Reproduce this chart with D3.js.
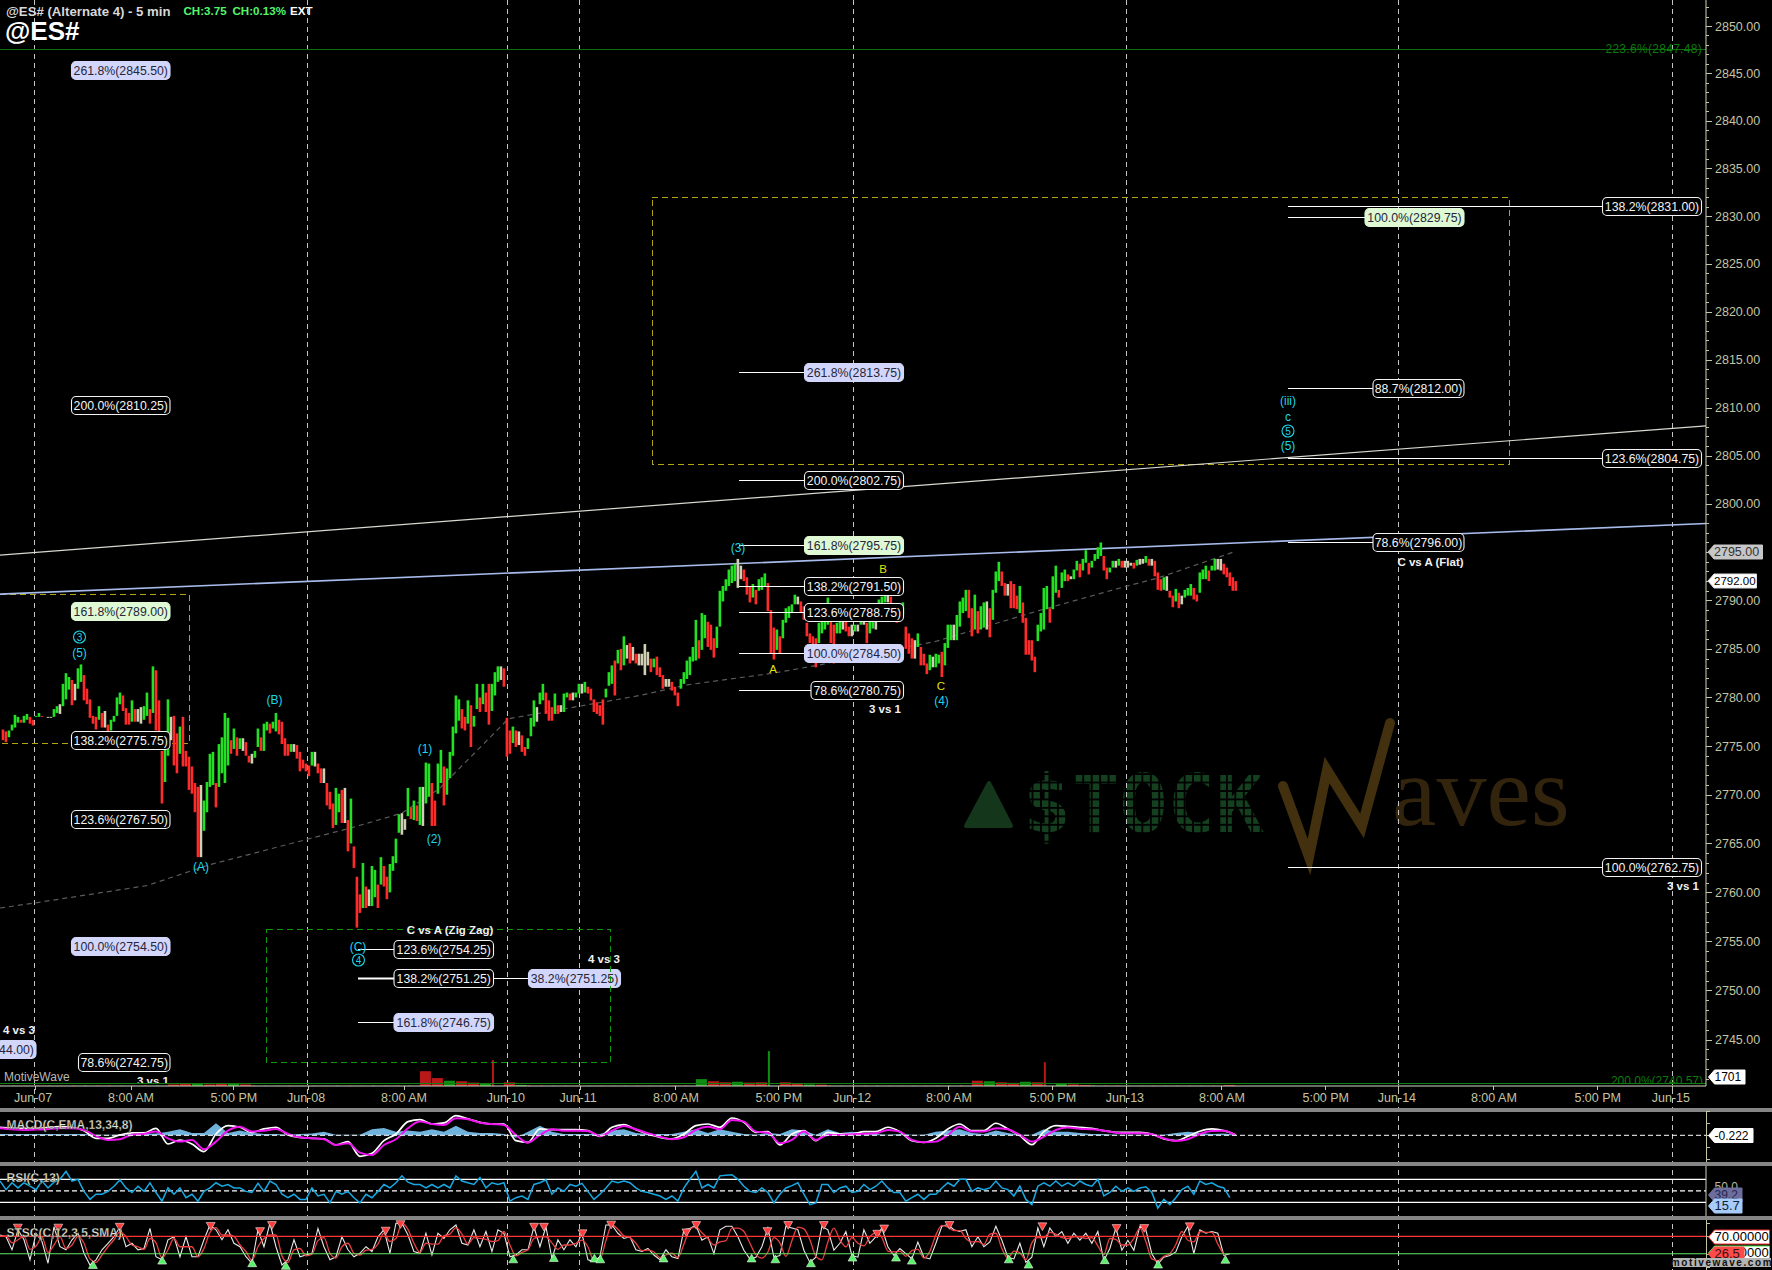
<!DOCTYPE html>
<html><head><meta charset="utf-8"><title>@ES# (Alternate 4) - 5 min</title>
<script src="https://cdn.jsdelivr.net/npm/d3@7"></script>
<style>
html,body{margin:0;padding:0;background:#000;overflow:hidden}
svg{display:block;font-family:"Liberation Sans",Arial,sans-serif}
.axis text{fill:#c4c4a4;font-size:12.5px;font-family:"Liberation Sans",Arial,sans-serif}
.axis line,.axis path{stroke:#c4c4a4;stroke-width:1;shape-rendering:crispEdges}
</style></head><body><svg id="c" width="1772" height="1270" viewBox="0 0 1772 1270"></svg>
<script>
// ---------- price bars, sampled every 3 bars, left to right ----------
const barHigh=[2776.7,2776.5,2776.6,2777.2,2778.2,2778,2777.7,2778.1,2778.3,2778,2777.7,2778.1,2778.4,2778.1,2778,2778,2778,2778.8,2779.1,2779.3,2781.4,2782.5,2782.1,2781.8,2781.4,2783,2783.4,2782.3,2780.9,2779.8,2778.1,2778,2779.1,2778.4,2778.6,2777.2,2777.7,2778.1,2780,2780.5,2780.2,2778.9,2778.4,2779.7,2778.8,2778.8,2779,2779.1,2780.5,2778.8,2783.2,2782.8,2779.7,2774.5,2774.9,2779.8,2778,2778.1,2776.3,2777,2778,2774.5,2773.9,2772.9,2771.2,2770.8,2771,2769.4,2771.3,2774.2,2774.4,2771.2,2775.2,2775.9,2778.4,2777.9,2775.6,2776.8,2775.9,2775.8,2775.8,2775.4,2774,2774.2,2774.5,2776.8,2775.9,2777.3,2777.5,2777.3,2777.5,2778.4,2777.7,2777.5,2775.8,2775.2,2775.2,2775.2,2775.1,
2774.4,2773.6,2773.2,2773,2774.4,2774.4,2773.2,2772.7,2772.7,2771.2,2770.3,2769.1,2770.7,2770.1,2770.5,2770.7,2767.4,2769.6,2764.7,2761.6,2759.8,2763,2760.6,2760.3,2762.7,2762.3,2760.8,2763.6,2762.7,2761.6,2762.9,2763.7,2765.5,2768,2768.1,2767.5,2770.7,2768.7,2769.4,2768.9,2770.8,2770.8,2773.3,2773.2,2771.2,2769.4,2773.2,2774.6,2772.9,2772.7,2774.4,2777,2780.2,2779.8,2778.8,2778,2779.7,2779.2,2778.1,2781.4,2780,2781.4,2780.5,2781.4,2781.4,2782.6,2783.2,2783.2,2783,
2777.9,2776.6,2777,2776.6,2776.5,2776.1,2774.9,2775.8,2777.9,2779.7,2779,2780.5,2781.4,2780.5,2779.7,2779,2780.4,2779.2,2779.2,2780.4,2780.5,2780.4,2780.5,2780.5,2781.4,2781.4,2781.6,2781.1,2780.9,2779.8,2779.5,2779.2,2779.8,2780.9,2782.6,2783.3,2783.8,2784.9,
2785,2786.3,2785.4,2785.6,2785.2,2784.5,2784.5,2784.5,2785.5,2784.7,2784,2784,2784.2,2783.1,2782.3,2781.9,2781.9,2781.6,2781.1,2780.5,2781.9,2782.6,2783.8,2784.2,2785.2,2788,2785.9,2788.7,2788.5,2787.8,2787.5,2786.1,2787.3,2791,2791.5,2792.2,2793.2,2793.6,2793.8,2794.3,2793.6,2793.2,2792.4,2791.5,2791.7,2791.1,2792.2,2792.4,2792.8,2791.8,2789,2787.2,2787,2786.3,2788,2789.2,2789.4,2789.6,2790.6,2790.4,2789.9,2789.4,2787.7,2786.6,2786.3,2786.1,2787.7,2788.2,2788.4,2790.3,2787.8,2787.5,2787.7,2788.2,2788,2787.8,2787.3,2787.5,2787.5,2787.5,2788.4,2788.4,2787.7,2788,2788.5,2788.5,2790.1,2790.4,2790.8,2790.8,2790.4,2789.6,2788.7,2788.5,2789.8,2787.3,2786.6,2786.1,2785.9,2786.6,2785.2,2784.5,2783.5,2784.4,2784.2,2784.5,2784.4,
2784.7,2785.6,2787.5,2787.5,2787.5,2788.5,2789.9,2790.3,2791.1,2791.1,2789.2,2790.6,2788.9,2789.4,2789.8,2789.9,2789.2,2791.1,2793,2794,2793,2791.8,2791.7,2792,2791.7,2790.5,2791.5,2789.8,2788.2,2785.9,2785.9,2784.2,2787.5,2788.7,2791.3,2791.5,2789.2,2792.5,2793.6,2791.1,2792.9,2793.2,2792.7,2792.5,2793.2,2794.1,2793.8,2794.3,2795.2,2793.9,2794.1,2794.8,2795.5,2796,2794.6,2793.4,2793.4,2794.1,2794.1,2794.3,2794.1,2794.1,2794.1,2793.9,2793.9,2794.2,2794.3,2794.3,2794.6,2794.3,2794.3,2794.1,2792.9,2792.2,2792.4,2792.5,2791,2790.5,2791.2,2790.8,2790.5,2791.1,2791.3,2791.7,2791.3,2790.6,2792.9,2793.2,2793.6,2793.1,2793.6,2794.3,2794.3,2794.3,2793.8,2793.4,2792.9,2792.4,2792];
const barLow=[2775.6,2775.4,2775.9,2776.6,2776.9,2777.4,2777.4,2777.4,2777.7,2777.3,2777.1,2778,2778,2778,2778,2777.9,2777.9,2778,2778.4,2778.3,2779.1,2779.8,2780.8,2779.2,2779.7,2780.9,2781.6,2779.7,2779.3,2777.9,2777.3,2776.7,2777.7,2776.9,2776.9,2776.5,2776.6,2777.5,2778.1,2779.3,2778.6,2777.2,2777.2,2777.5,2777.5,2777.5,2777.3,2777.7,2778.1,2777.3,2778.4,2776.6,2776.5,2769.1,2771.3,2774,2775.6,2773,2772.2,2774.2,2772.9,2772.9,2770.5,2770.1,2768.2,2763.6,2763.6,2766.3,2768.2,2770.8,2771,2768.7,2770.8,2772.2,2771.2,2773,2774.2,2774.7,2774,2774.7,2774.5,2774,2773.3,2773.2,2773.8,2774.9,2774.5,2774.5,2776.6,2776.3,2776.8,2776.5,2776.2,2775.2,2774,2774,2774.4,2774.4,2773.7,
2772.4,2772.7,2772.4,2771.9,2773,2772.9,2772.2,2771.2,2771.2,2768.9,2768.5,2766.6,2766.9,2768.2,2767.1,2767.1,2764.2,2765,2762.5,2756.4,2757.9,2758.4,2758.4,2758.6,2758.6,2759.5,2758.4,2760.8,2760.6,2759.3,2760,2762.2,2763,2766.1,2765.9,2766.4,2767.8,2767.5,2767.4,2767.3,2766.9,2766.8,2769.1,2769.8,2766.8,2766.8,2770.1,2771.2,2768.9,2770,2771.7,2774,2776.3,2777.6,2776.8,2776.6,2777.3,2774.9,2777,2778.8,2778.5,2779.3,2778.5,2777.2,2778.6,2780.2,2781.6,2781.8,2781.1,
2773.9,2774.2,2775.3,2774.9,2775.1,2774.4,2774,2774.7,2776,2777,2777.5,2779.3,2779.7,2778.3,2777.6,2777.6,2778.3,2778.3,2778.5,2778.5,2780,2779.7,2779.7,2780,2780.4,2780.4,2780.5,2780.4,2779.7,2778.5,2778.3,2778.1,2777.2,2780,2781.2,2781.4,2780.2,2783.5,
2782.8,2783.3,2784,2783.5,2783.8,2783.5,2783.3,2783.3,2782.3,2783.3,2782.6,2783.1,2782.3,2782.1,2780.9,2781.1,2781.1,2780.7,2780.2,2779.1,2780.9,2781.4,2781.9,2782.3,2783.7,2783.8,2784,2784.9,2786.1,2785.2,2784.9,2784.1,2785.1,2787.3,2789.9,2791,2791.5,2791.8,2792,2791.3,2792.2,2792,2790.6,2789.8,2790.3,2789.6,2791,2791.1,2791.5,2788.9,2784.5,2783.9,2784.9,2784.5,2786.1,2787.7,2788.2,2788.7,2789.6,2789.6,2788.7,2788,2786.3,2785.6,2785.4,2783.1,2785.6,2786.6,2787,2787.5,2785.6,2783.5,2786.6,2786.6,2787,2786.8,2786.3,2786.3,2786.8,2786.8,2787.5,2787.5,2785.6,2786.6,2787.1,2787,2788,2788.7,2789.8,2789.8,2788.7,2788,2787.7,2787.8,2788.5,2785,2784.5,2784,2784,2785.2,2783.3,2783.3,2782.4,2782.8,2783.1,2783.1,2783.5,
2782.1,2783.3,2785.1,2785.9,2785.9,2785.9,2787.3,2788.7,2788.9,2788.2,2786.3,2787,2786.6,2787,2787.2,2787,2786.2,2788,2790.8,2792,2791.5,2790.5,2790.5,2789.2,2789.2,2789.1,2788.7,2787.7,2784.4,2784.4,2783.8,2782.6,2785.8,2786.8,2787,2789.1,2787.7,2789.1,2790.8,2790.3,2791.3,2792,2792,2792.2,2792.2,2793.1,2792.4,2793.1,2793.9,2792.7,2793.4,2794.1,2794.3,2794.6,2793.1,2792.2,2792.9,2793.4,2793.4,2793.6,2793.4,2793.4,2793.4,2793.6,2793.3,2793.6,2793.7,2793.8,2793.9,2793.6,2793.6,2792.5,2791.1,2791,2791.1,2791,2790.3,2789.3,2789.9,2789.2,2789.6,2790.3,2790.5,2790.5,2790.1,2789.9,2790.8,2792.2,2792.2,2792,2793.1,2793.1,2793.2,2793.1,2792.7,2792.4,2791.5,2791,2791];
// volume, every 12 bars
const volume=[40,60,50,80,60,40,70,90,60,70,50,60,80,60,300,450,500,300,400,500,300,80,60,50,70,50,60,40,70,60,50,80,60,50,70,2800,1500,1000,900,650,500,4900,700,200,100,80,60,70,60,50,60,50,60,60,50,60,50,80,1300,900,700,800,650,700,6600,700,500,300,250,100,60,60,80,70,60,50,50,60,60,70,100,1000,900,700,600,800,700,4500,500,300,200,100,70,60,60,50,60,50,60,70,60,70,200];
// MACD, every 12 bars
const macdLine=[.88,.79,.75,.75,.88,.96,.88,.46,-.5,-.5,-.08,.17,.17,.75,-1.21,-.71,-1.21,-2.17,.04,1.08,.88,.25,.67,.88,-.08,-.38,-.5,-.58,-1.33,-.92,-2.75,-2.38,-.79,.04,1.58,1.83,1.29,1.42,2.33,1.92,1.5,1.29,1.29,-.79,-1,.67,.58,.58,.58,.46,-.25,.88,1.21,.58,.04,-.38,-.58,.04,1.08,1.29,.88,2.04,1.5,.25,.33,-1.33,.04,.46,-.79,.25,.04,.04,.33,.33,.88,.33,-.79,-1,-.5,.67,1.29,.46,.46,1.38,.67,-.17,-1.29,.33,1.08,1,.88,.75,.46,.25,.25,.25,.04,-.58,-.79,-.25,.38,.67,.46,-.08];
const macdSignal=[.88,.75,.67,.71,.79,.88,.88,.67,-.08,-.58,-.5,.08,.17,.46,-.38,-.79,-.58,-1.75,-.79,.58,1.08,.46,.58,.79,.17,-.25,-.38,-.5,-1.21,-1,-2.17,-2.46,-1.21,-.5,.88,1.71,1.42,1.29,2.13,2,1.58,1.42,1.29,.04,-.92,.04,.75,.58,.58,.54,-.08,.58,1.17,.75,.25,-.17,-.5,-.25,.67,1.08,.75,1.92,1.71,.46,.33,-1,-.58,.46,-.58,.04,.04,.13,.17,.25,.67,.46,-.58,-.88,-.79,.04,1.08,.46,.46,.88,.75,.04,-.79,-.17,.67,.96,.83,.75,.58,.33,.25,.25,.13,-.38,-.71,-.5,.17,.54,.58,0];
const macdHist=[.1,.1,.1,.1,.1,.1,.1,.1,.05,.05,.05,.1,.1,.15,.3,.5,.2,.2,1,.2,.4,.2,.1,.1,.05,.1,.15,.3,.05,.05,.05,.5,.6,.3,.4,.3,.5,.3,.8,.3,.2,.2,.1,-.2,.3,.8,.3,.1,.1,.1,.1,.4,.5,.2,.1,.1,.1,.3,.5,.2,.5,.3,.1,.05,.2,.1,.5,.4,.05,.5,.2,.3,.2,.1,.05,.1,.05,.05,.3,.4,.5,.2,.1,.4,.2,.05,.05,.5,.3,.3,.2,.1,.1,.05,.05,.05,.05,.05,.2,.3,.2,.1,.15,.05];
// RSI, every 6 bars
const rsi=[67,52,64,55,64,58,52,67,55,65,70,84,67,70,49,35,44,44,49,58,69,55,47,58,49,64,47,32,55,44,55,38,44,32,49,55,64,58,61,55,55,49,47,63,49,67,61,44,38,44,35,35,55,41,44,29,49,44,49,38,29,44,38,49,61,55,64,76,65,61,61,55,61,55,61,55,76,67,64,61,73,55,64,61,64,32,38,41,35,61,64,69,44,55,49,61,58,63,49,35,44,55,67,64,67,64,55,49,47,44,41,35,41,32,55,70,84,55,61,55,76,77,78,70,58,49,47,55,47,29,44,55,59,64,44,26,29,61,61,47,55,58,47,49,61,52,58,67,55,47,47,32,38,44,35,44,44,55,64,58,70,70,49,55,52,55,67,55,52,41,58,35,26,58,64,58,67,58,64,58,67,61,58,70,41,47,58,49,55,49,55,57,47,20,35,26,38,52,58,44,67,61,64,58,55,38];
// Stochastic fast and slow, every 6 bars
const stochFast=[73,69,39,85,62,16,77,58,8,92,46,39,62,77,31,4,16,39,54,69,92,46,54,39,42,88,23,16,62,69,23,69,23,23,62,96,85,62,85,54,46,23,8,85,46,100,46,4,16,62,23,27,31,88,46,16,23,69,39,23,31,46,35,69,85,31,100,100,73,35,31,77,27,77,65,85,96,54,50,85,46,81,35,85,77,23,27,39,39,92,46,92,19,62,39,62,46,77,16,12,23,96,96,77,65,69,39,35,42,27,16,39,23,19,85,88,96,61,69,30,85,93,93,69,38,18,22,46,89,22,26,93,89,85,38,10,22,93,85,38,54,81,26,22,85,54,69,89,46,26,42,30,18,57,22,18,54,93,97,85,81,85,46,69,46,57,93,61,22,18,54,10,22,89,46,89,69,81,54,77,61,77,54,81,14,42,89,38,61,38,93,85,30,6,22,26,34,69,93,30,85,77,81,77,26,30];
const stochSlow=[70,71,55,62,70,40,47,68,33,50,69,42,50,70,54,18,10,27,46,62,80,69,50,46,40,65,55,20,39,65,46,46,46,23,42,79,90,73,73,70,50,35,15,46,65,73,73,25,10,39,42,25,29,60,67,31,20,46,54,31,27,38,40,52,77,58,65,100,86,54,33,54,52,52,71,75,90,75,52,67,65,63,58,60,81,50,25,33,39,65,69,69,55,40,50,50,54,61,46,14,17,60,96,86,71,67,54,37,38,34,21,27,31,21,52,86,92,78,65,50,57,60,89,89,81,54,28,20,34,67,55,24,60,91,87,62,24,16,57,89,62,46,67,54,48,69,78,67,36,34,36,24,37,40,20,36,73,95,91,83,83,65,57,58,51,75,77,42,20,36,32,16,55,67,67,79,75,67,65,69,69,65,67,48,28,65,63,50,50,65,89,58,18,14,24,30,51,81,61,57,81,79,79,52,28];
const stochPeakBars=[18,59,121,213,263,275,390,405,540,550,589,618,694,704,776,797,833,887,894,960,1054,1129,1157,1203];
const stochPeakValues=[92,92,94,96,84,98,85,100,94,94,79,99,81,98,84,98,98,78,90,98,95,91,91,95];
const stochTroughBars=[94,164,255,289,519,560,601,607,671,760,784,820,862,906,922,1020,1040,1117,1171,1239];
const stochTroughValues=[2,12,6,0,15,18,17,15,17,17,15,6,19,19,12,15,3,13,3,14];
// dashed running average through the wave
const avgBars=[0,34,149,211,355,406,444,514,647,695,782,826,947,1052,1140,1170,1247];
const avgPrices=[2758.4,2758.9,2760.7,2762.8,2766.6,2768.1,2770.6,2777.8,2780.2,2781.3,2782.5,2783.3,2785.8,2789,2791.5,2792.3,2795];
// axes
const priceTicks=[2850,2845,2840,2835,2830,2825,2820,2815,2810,2805,2800,2795,2790,2785,2780,2775,2770,2765,2760,2755,2750,2745];
const timeTickBars=[35,132,236,311,408,513,586,683,787,863,959,1064,1139,1235,1340,1414,1510,1615,1691];
const timeTickLabels=["Jun-07","8:00 AM","5:00 PM","Jun-08","8:00 AM","Jun-10","Jun-11","8:00 AM","5:00 PM","Jun-12","8:00 AM","5:00 PM","Jun-13","8:00 AM","5:00 PM","Jun-14","8:00 AM","5:00 PM","Jun-15"];
const dayLineBars=[35,311,513,586,863,1139,1414,1691];
// fibonacci levels
const fibText=["261.8%(2845.50)","200.0%(2810.25)","161.8%(2789.00)","138.2%(2775.75)","123.6%(2767.50)","100.0%(2754.50)","78.6%(2742.75)","44.00)","123.6%(2754.25)","138.2%(2751.25)","161.8%(2746.75)","38.2%(2751.25)","261.8%(2813.75)","200.0%(2802.75)","161.8%(2795.75)","138.2%(2791.50)","123.6%(2788.75)","100.0%(2784.50)","78.6%(2780.75)","138.2%(2831.00)","100.0%(2829.75)","88.7%(2812.00)","123.6%(2804.75)","78.6%(2796.00)","100.0%(2762.75)"];
const fibPrice=[2845.5,2810.25,2789,2775.75,2767.5,2754.5,2742.75,2744,2754.25,2751.25,2746.75,2751.25,2813.75,2802.75,2795.75,2791.5,2788.75,2784.5,2780.75,2831,2829.75,2812,2804.75,2796,2762.75];
const fibTone=["l","k","g","k","k","l","k","l","k","k","l","l","l","k","g","k","k","l","k","k","g","k","k","k","k"];
// ---------- layout ----------
const W=1772,H=1270,AX=1706,BAR_STEP=3.033;
const fibBoxL=[71.5,71.5,71.5,71.5,71.5,71.5,78.5,-3,394,394,394,528.5,804.5,804.5,804.5,804.5,804.5,804.5,811,1602.5,1365,1373,1602.5,1373,1602.5];
const fibBoxR=[170,170,170,170,170,170,170,36,493.5,493.5,493.5,620.5,903.5,903.5,903.5,903.5,903.5,903.5,903.5,1701.5,1464,1464,1701.5,1464,1701.5];
const fibLineFrom=[0,0,0,0,0,0,0,0,358,358,358,493.5,739,739,739,739,739,739,739,1288,1288,1288,1288,1288,1288];
const fibNudge=[1,0,1,1,0,0,0,0,0,0,0,0,0,2.5,0,0,-1,-1,0,-1,-2,0,0,0,1.5];

const x=d3.scaleLinear().domain([0,1725]).range([0,AX]);
const y=d3.scaleLog().domain([2850,2745]).range([26,1039.5]);
const svg=d3.select("#c");
svg.append("rect").attr("width",W).attr("height",H).attr("fill","#000");
const defs=svg.append("defs");
function clip(id,a,b){defs.append("clipPath").attr("id",id).append("rect").attr("x",0).attr("y",a).attr("width",AX).attr("height",b-a);}
clip("cp",0,1084);clip("cm",1112,1162);clip("cr",1166,1216);clip("cs",1220,1270);
const pat=defs.append("pattern").attr("id","dots").attr("patternUnits","userSpaceOnUse").attr("x",1025).attr("y",775).attr("width",8.45).attr("height",8.45);
pat.append("rect").attr("width",6.6).attr("height",6.6).attr("fill","#14401f");

// watermark
const wm=svg.append("g");
wm.append("path").attr("d","M989,783 L1011,826 L966,826 Z").attr("fill","#14361a").attr("stroke","#14361a").attr("stroke-width",4).attr("stroke-linejoin","round");
wm.append("text").attr("x",1023).attr("y",832).attr("font-family","DejaVu Sans Mono").attr("font-weight","bold").attr("font-size",80).attr("fill","url(#dots)").text("$TOCK");
wm.append("path").attr("d","M1283,786 L1309,857 L1327,770 L1362,826 L1390,723").attr("fill","none").attr("stroke","#43300f").attr("stroke-width",10).attr("stroke-linecap","round");
wm.append("text").attr("x",1392).attr("y",825).attr("font-family","Liberation Serif").attr("font-size",100).attr("fill","#33240e").text("aves");

// vertical day lines
svg.append("g").selectAll("line").data(dayLineBars).join("line")
 .attr("x1",d=>x(d)).attr("x2",d=>x(d)).attr("y1",0).attr("y2",H)
 .attr("stroke","#c4c4c4").attr("stroke-width",1).attr("stroke-dasharray","5,4").attr("shape-rendering","crispEdges");

// yellow zones
const zone=svg.append("g").attr("fill","none").attr("stroke","#b3a416").attr("stroke-width",1).attr("stroke-dasharray","6,4").attr("shape-rendering","crispEdges");
zone.append("rect").attr("x",652).attr("y",197.5).attr("width",857.5).attr("height",266.5);
zone.append("path").attr("d","M0,594.5 H189.5 V743 H0");

// 223.6% and 200% extension lines
const pg=svg.append("g").attr("clip-path","url(#cp)");
svg.append("line").attr("x1",0).attr("x2",AX).attr("y1",49.5).attr("y2",49.5).attr("stroke","#0c6e0c");
svg.append("text").attr("x",1702).attr("y",53).attr("text-anchor","end").attr("font-size",12).attr("fill","#0d7a0d").attr("letter-spacing",".3").text("223.6%(2847.48)");

// trend lines
const trendBars=[0,1725];
const trendBlue=[2790.66,2797.96],trendWhite=[2794.7,2808.1];
const tl=d3.line().x((d,i)=>x(trendBars[i])).y(d=>y(d));
pg.append("path").attr("d",tl(trendWhite)).attr("fill","none").attr("stroke","#d8d8d0").attr("stroke-width",1.2);
pg.append("path").attr("d",tl(trendBlue)).attr("fill","none").attr("stroke","#a8bcec").attr("stroke-width",1.6);
pg.append("path").datum(avgPrices).attr("d",d3.line().x((d,i)=>x(avgBars[i])).y(d=>y(d))).attr("fill","none").attr("stroke","#5a5a5a").attr("stroke-width",1.2).attr("stroke-dasharray","5,4");

// volume
const vy=d3.scaleLinear().domain([0,1701]).range([1086,1077]);
svg.append("g").selectAll("rect").data(volume).join("rect")
 .attr("x",(d,i)=>x(i*4*BAR_STEP)).attr("width",d=>d>3000?2:d>150?11:3).attr("y",d=>vy(d)).attr("height",d=>1086-vy(d))
 .attr("fill",(d,i)=>i%3===1?"#0f8f0f":"#b81818");

// bars
const n=Math.min(barHigh.length,barLow.length);
const mid=i=>(barHigh[i]+barLow[i])/2;
const barColor=i=>{if(i===0)return"#ff2b2b";const d=mid(i)-mid(i-1);return d>0.12?"#22e022":d<-0.12?"#ff2b2b":"#cfcfb4";};
pg.append("g").selectAll("line").data(d3.range(n)).join("line")
 .attr("x1",i=>x(3+i*BAR_STEP)).attr("x2",i=>x(3+i*BAR_STEP))
 .attr("y1",i=>y(barHigh[i])).attr("y2",i=>y(barLow[i]))
 .attr("stroke",barColor).attr("stroke-width",2.6);

// fib lines and labels
const lv=svg.append("g");
fibText.forEach((t,i)=>{
 const yy=Math.round(y(fibPrice[i])+fibNudge[i])+0.5,L=fibBoxL[i],R=fibBoxR[i];
 if(fibLineFrom[i]>0) lv.append("line").attr("x1",fibLineFrom[i]).attr("x2",L).attr("y1",yy).attr("y2",yy).attr("stroke","#fff").attr("stroke-width",t.startsWith("138.2%(2751")?2:1);
 const tone=fibTone[i];
 const fill=tone==="l"?"#d2d6fb":tone==="g"?"#def9d4":"#000";
 lv.append("rect").attr("x",L).attr("y",yy-9).attr("width",R-L).attr("height",18).attr("rx",4.5)
  .attr("fill",fill).attr("stroke",tone==="k"?"#f2f2f2":fill).attr("stroke-width",1.1);
 lv.append("text").attr("x",(L+R)/2).attr("y",yy+4.4).attr("text-anchor","middle").attr("font-size",12.3)
  .attr("fill",tone==="k"?"#f4f4f4":"#26263a").text(t);
});

// green zone and captions
svg.append("rect").attr("x",266.5).attr("y",929.5).attr("width",344).attr("height",132.5).attr("fill","none")
 .attr("stroke","#0e9a0e").attr("stroke-dasharray","6,4").attr("stroke-width",1).attr("shape-rendering","crispEdges");
const capText=["C vs A (Zig Zag)","4 vs 3","4 vs 3","3 vs 1","3 vs 1","C vs A (Flat)","3 vs 1"];
const capX=[450,604,19,153,885,1430.5,1683];
const capY=[929.5,958.5,1029.5,1081,709,561.5,886];
const capG=svg.append("g").attr("clip-path","url(#cp)");
capText.forEach((t,i)=>capG.append("text").attr("x",capX[i]).attr("y",capY[i]+4).attr("text-anchor","middle").attr("font-size",11.5).attr("font-weight","bold").attr("fill","#f0f0f0").text(t));

// wave labels
const waveText=["(5)","(A)","(B)","(C)","(1)","(2)","(3)","(4)","(iii)","c","(5)"];
const waveX=[79.5,201,274.5,358,425,434,738,941.5,1288,1288,1288];
const waveY=[653,867,700,947,749,838.5,548,701,401,417,446];
waveText.forEach((t,i)=>svg.append("text").attr("x",waveX[i]).attr("y",waveY[i]+4).attr("text-anchor","middle").attr("font-size",12).attr("fill","#1cd6e8").text(t));
const circText=["3","4","5"],circX=[79.5,358.5,1288],circY=[637,960,431];
circText.forEach((t,i)=>{
 svg.append("circle").attr("cx",circX[i]).attr("cy",circY[i]).attr("r",6).attr("fill","none").attr("stroke","#1cd6e8").attr("stroke-width",1.1);
 svg.append("text").attr("x",circX[i]).attr("y",circY[i]+3.6).attr("text-anchor","middle").attr("font-size",10).attr("fill","#1cd6e8").text(t);
});
const abcText=["A","B","C"],abcX=[773,883,941],abcY=[669,569,686];
abcText.forEach((t,i)=>svg.append("text").attr("x",abcX[i]).attr("y",abcY[i]+4).attr("text-anchor","middle").attr("font-size",11.5).attr("fill","#e2e20a").text(t));

// title
svg.append("text").attr("x",6).attr("y",16).attr("font-size",13.2).attr("font-weight","bold").attr("fill","#d8d8d8").text("@ES# (Alternate 4) - 5 min");
svg.append("text").attr("x",183.5).attr("y",15).attr("font-size",11.6).attr("font-weight","bold").attr("fill","#55f56a").text("CH:3.75");
svg.append("text").attr("x",232.5).attr("y",15).attr("font-size",11.6).attr("font-weight","bold").attr("fill","#55f56a").text("CH:0.13%");
svg.append("text").attr("x",290).attr("y",15).attr("font-size",11.6).attr("font-weight","bold").attr("fill","#fff").text("EXT");
svg.append("text").attr("x",5).attr("y",40).attr("font-size",26).attr("font-weight","bold").attr("fill","#fff").text("@ES#");
svg.append("text").attr("x",4).attr("y",1081).attr("font-size",12).attr("fill","#b8b8b8").text("MotiveWave");

// axes
const ya=svg.append("g").attr("class","axis").attr("transform",`translate(${AX},0)`);
ya.call(d3.axisRight(y).tickValues(priceTicks).tickFormat(d3.format(".2f")).tickSize(6).tickPadding(3));
ya.select(".domain").remove();
const minor=d3.range(2740,2853).filter(d=>d%5!==0);
const ym=svg.append("g").attr("class","axis").attr("transform",`translate(${AX},0)`);
ym.call(d3.axisRight(y).tickValues(minor).tickSize(3));ym.select(".domain").remove();ym.selectAll("text").remove();
const xa=svg.append("g").attr("class","axis").attr("transform","translate(0,1086)");
xa.call(d3.axisBottom(x).tickValues(timeTickBars).tickFormat((d,i)=>timeTickLabels[i]).tickSize(4).tickPadding(3));
xa.select(".domain").remove();
xa.selectAll("text").attr("dx",(d,i)=>timeTickLabels[i].startsWith("Jun")?-2:0).attr("dy","0.75em");
svg.append("line").attr("x1",0).attr("x2",AX).attr("y1",1083.5).attr("y2",1083.5).attr("stroke","#0f800f").attr("stroke-width",1.2);
svg.append("line").attr("x1",0).attr("x2",AX).attr("y1",1086).attr("y2",1086).attr("stroke","#d8d8c8").attr("stroke-width",1);
svg.append("text").attr("x",1703).attr("y",1085).attr("text-anchor","end").attr("font-size",12).attr("fill","#0d7a0d").attr("clip-path","url(#cp)").text("200.0%(2740.57)");
svg.append("line").attr("x1",AX).attr("x2",AX).attr("y1",0).attr("y2",1086).attr("stroke","#d0d0b8");

// panel bands
const bands=[1108,1162,1216];
svg.append("g").selectAll("rect").data(bands).join("rect").attr("x",0).attr("width",W).attr("y",d=>d).attr("height",4).attr("fill","#858585");

// MACD panel
const my=d3.scaleLinear().domain([-3,3]).range([1159.3,1111.3]);
const hy=d3.scaleLinear().domain([-2,2]).range([1159.3,1111.3]);
const mp=svg.append("g").attr("clip-path","url(#cm)");
const mx=(d,i)=>x(i*4*BAR_STEP);
mp.append("path").datum(macdHist).attr("d",d3.area().x(mx).y0(hy(0)).y1(d=>hy(d))).attr("fill","#6fb2dc");
svg.append("line").attr("x1",0).attr("x2",AX).attr("y1",my(0)).attr("y2",my(0)).attr("stroke","#fff").attr("stroke-dasharray","5,3");
mp.append("path").datum(macdLine).attr("d",d3.line().curve(d3.curveMonotoneX).x(mx).y(d=>my(d)-1)).attr("fill","none").attr("stroke","#fff").attr("stroke-width",1.7);
mp.append("path").datum(macdSignal).attr("d",d3.line().curve(d3.curveMonotoneX).x(mx).y(d=>my(d))).attr("fill","none").attr("stroke","#f012f0").attr("stroke-width",2);
const mA=svg.append("g").attr("class","axis").attr("transform",`translate(${AX},0)`);
mA.call(d3.axisRight(my).tickValues([3,1.5,0,-1.5,-3]).tickSize(4));mA.select(".domain").attr("d","M0,1112V1162");mA.selectAll("text").remove();

// RSI panel
const ry=d3.scaleLinear().domain([30,70]).range([1202.3,1179.3]);
const rsiLevels=[70,50,30];
svg.append("g").selectAll("line").data(rsiLevels).join("line").attr("x1",0).attr("x2",AX).attr("y1",d=>ry(d)).attr("y2",d=>ry(d))
 .attr("stroke","#fff").attr("stroke-width",1.3).attr("stroke-dasharray",d=>d===50?"5,3":null);
svg.append("g").attr("clip-path","url(#cr)").append("path").datum(rsi)
 .attr("d",d3.line().x((d,i)=>x(i*2*BAR_STEP)).y(d=>ry(d))).attr("fill","none").attr("stroke","#18a8e2").attr("stroke-width",1.5);
svg.append("line").attr("x1",AX).attr("x2",AX).attr("y1",1166).attr("y2",1216).attr("stroke","#d0d0b8");

// Stochastic panel
const sy=d3.scaleLinear().domain([30,70]).range([1253.7,1236.3]);
const sp=svg.append("g").attr("clip-path","url(#cs)");
svg.append("line").attr("x1",0).attr("x2",AX).attr("y1",sy(70)).attr("y2",sy(70)).attr("stroke","#ff3434").attr("stroke-width",1.3);
svg.append("line").attr("x1",0).attr("x2",AX).attr("y1",sy(30)).attr("y2",sy(30)).attr("stroke","#63e663").attr("stroke-width",1.1);
sp.append("path").datum(stochFast).attr("d",d3.line().x((d,i)=>x(i*2*BAR_STEP)).y(d=>sy(d))).attr("fill","none").attr("stroke","#e8e8e8").attr("stroke-width",1.1);
sp.append("path").datum(stochSlow).attr("d",d3.line().curve(d3.curveMonotoneX).x((d,i)=>x(i*2*BAR_STEP)).y(d=>sy(d))).attr("fill","none").attr("stroke","#e84040").attr("stroke-width",1.3);
const tri=d3.symbol().type(d3.symbolTriangle).size(34);
sp.selectAll(".pk").data(stochPeakBars).join("path").attr("d",tri())
 .attr("transform",(d,i)=>`translate(${x(d)},${sy(stochPeakValues[i])}) rotate(180)`).attr("fill","#ff3d3d").attr("stroke","#f4e0e0").attr("stroke-width",.6);
sp.selectAll(".tr").data(stochTroughBars).join("path").attr("d",tri())
 .attr("transform",(d,i)=>`translate(${x(d)},${sy(stochTroughValues[i])})`).attr("fill","#5af06a").attr("stroke","#e8f8e8").attr("stroke-width",.6);
const sA=svg.append("g").attr("class","axis").attr("transform",`translate(${AX},0)`);
sA.call(d3.axisRight(sy).tickValues([100,70,30,0]).tickSize(4));sA.select(".domain").attr("d","M0,1220V1270");sA.selectAll("text").remove();

// panel titles
const panelTitle=["MACD(C,EMA,13,34,8)","RSI(C,13)","STSC(C,12,3,5,SMA)"],panelY=[1129,1182,1237];
panelTitle.forEach((t,i)=>svg.append("text").attr("x",6.5).attr("y",panelY[i]).attr("font-size",12).attr("font-weight","bold").attr("fill","#e4e4d8").attr("stroke","#000").attr("stroke-width",.3).text(t));

// right-hand value flags
const flagText=["2795.00","2792.00","1701","-0.222","50.0","39.2","15.7","70.00000","30.00000","26.5"];
const flagL=[1708,1708,1708.5,1708.5,1708.5,1708.5,1708.5,1708.5,1708.5,1708.5];
const flagR=[1762.5,1756.5,1745,1753,1746,1742,1742,1769.5,1769.5,1744];
const flagY=[552,581,1077,1135.5,1187,1195,1206,1237,1253,1254];
const flagFill=["#c6c6c6","#fff","#fff","#fff","none","#6e6e9e","#a8ccfa","#fff","#fff","#ff4a4a"];
const flagStroke=["#c6c6c6","#ddd","#fff","#fff","none","#6e6e9e","#a8ccfa","#ff3030","#40e040","#ff4a4a"];
const flagInk=["#333","#000","#000","#000","#b8b8a0","#26264a","#123","#000","#000","#311"];
const flagSize=[12.5,11.5,12,12,12,12,13,13,13,13];
flagText.forEach((t,i)=>{
 const L=flagL[i],R=flagR[i],c=flagY[i];
 if(flagFill[i]!=="none") svg.append("path").attr("d",`M${L},${c} L${L+6},${c-7} H${R} V${c+7} H${L+6} Z`).attr("fill",flagFill[i]).attr("stroke",flagStroke[i]).attr("stroke-width",1);
 svg.append("text").attr("x",L+6).attr("y",c+4.4).attr("font-size",flagSize[i]).attr("fill",flagInk[i]).text(t);
});
svg.append("rect").attr("x",1673).attr("y",1258).attr("width",98).attr("height",9).attr("fill","#b4b4b4");
svg.append("text").attr("x",1722).attr("y",1266).attr("text-anchor","middle").attr("font-size",10).attr("font-weight","bold").attr("letter-spacing","1.6").attr("fill","#111").text("motivewave.com");
</script></body></html>
